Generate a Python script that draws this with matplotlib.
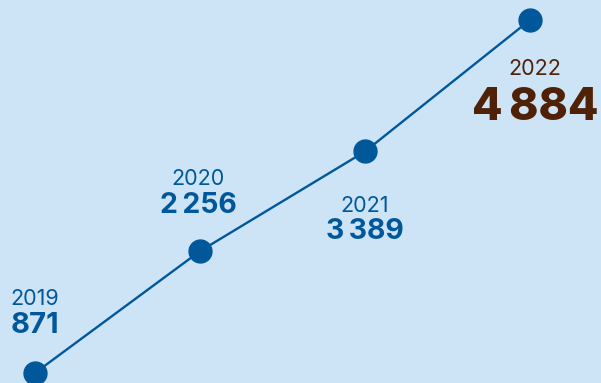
import matplotlib.pyplot as plt

years = ['2019', '2020', '2021', '2022']
values = [871, 2256, 3389, 4884]
labels = ['871', '2\u2009256', '3\u2009389', '4\u2009884']

bg = '#cde4f6'
blue = '#00589b'
brown = '#4f2208'

fig = plt.figure(figsize=(6.01, 3.83), dpi=100, facecolor=bg)
ax = fig.add_axes([0, 0, 1, 1])
ax.set_facecolor(bg)

x = list(range(len(values)))
ax.plot(x, values, color=blue, lw=1.7, zorder=2)
ax.plot(x, values, 'o', color=blue, ms=16.5, zorder=3)

ax.set_xlim(-0.212, 3.43)
ax.set_ylim(757, 5111)
ax.axis('off')

fam = ['Inter', 'DejaVu Sans']
# (dx, year dy, value dy, color, value size)
offs = [(0, 68, 40, blue, 21),
        (-2, 66, 38, blue, 20.5),
        (0, -61, -88, blue, 20.5),
        (5, -55, -100, brown, 32)]
for i, (dx, dy1, dy2, c, fs) in enumerate(offs):
    ax.annotate(years[i], (x[i], values[i]), xytext=(dx, dy1),
                textcoords='offset pixels', ha='center', va='baseline',
                fontsize=15.5, color=c, family=fam, fontweight='normal')
    ax.annotate(labels[i], (x[i], values[i]), xytext=(dx, dy2),
                textcoords='offset pixels', ha='center', va='baseline',
                fontsize=fs, color=c, family=fam,
                fontweight='bold' if i < 3 else 'heavy')

fig.savefig('out.png', dpi=100, facecolor=bg)
